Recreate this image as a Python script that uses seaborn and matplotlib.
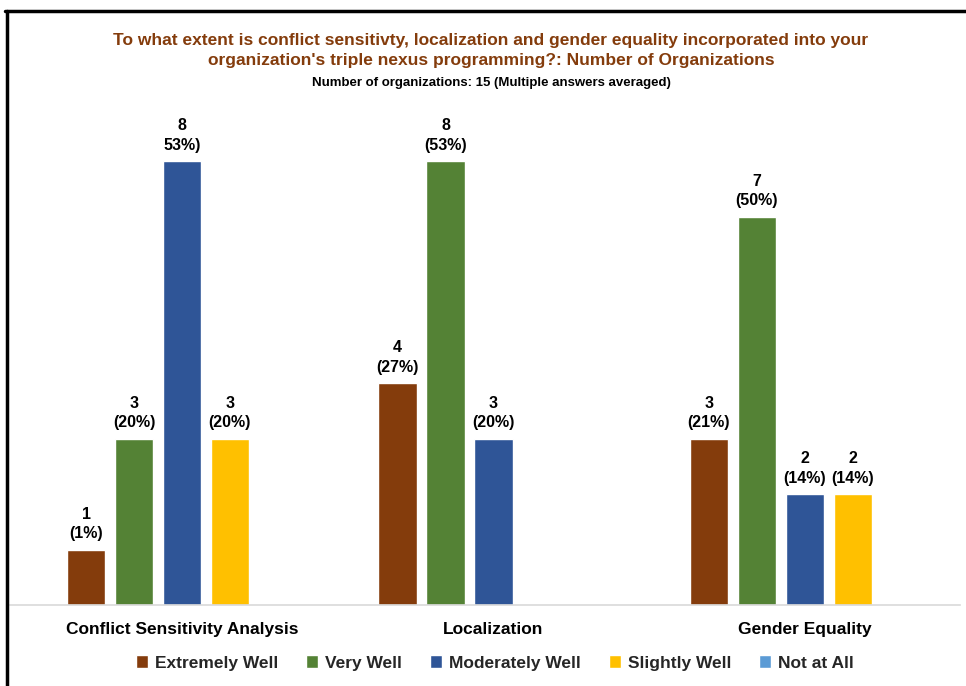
import matplotlib
matplotlib.use("Agg")
import matplotlib.pyplot as plt
from matplotlib.lines import Line2D
import pandas as pd
import seaborn as sns

categories = ["Conflict Sensitivity Analysis", "Localization", "Gender Equality"]
levels = ["Extremely Well", "Very Well", "Moderately Well", "Slightly Well", "Not at All"]

extremely_well = [1, 4, 3]
very_well = [3, 8, 7]
moderately_well = [8, 3, 2]
slightly_well = [3, 0, 2]
not_at_all = [0, 0, 0]

extremely_pct = ["(1%)", "(27%)", "(21%)"]
very_pct = ["(20%)", "(53%)", "(50%)"]
moderately_pct = ["53%)", "(20%)", "(14%)"]
slightly_pct = ["(20%)", "", "(14%)"]
not_at_all_pct = ["", "", ""]

colors = ["#843C0C", "#548235", "#2F5597", "#FFC000", "#5B9BD5"]

series = [extremely_well, very_well, moderately_well, slightly_well, not_at_all]
pcts = [extremely_pct, very_pct, moderately_pct, slightly_pct, not_at_all_pct]

rows = []
for lvl, vals in zip(levels, series):
    for cat, v in zip(categories, vals):
        rows.append({"category": cat, "level": lvl, "count": v})
df = pd.DataFrame(rows)

sns.set_theme(style="white")
FONT = ["Liberation Sans Narrow", "Liberation Sans", "DejaVu Sans"]
plt.rcParams["font.family"] = FONT

fig = plt.figure(figsize=(9.66, 6.86), dpi=100)
ax = fig.add_axes([10 / 966, 81 / 686, 950 / 966, (605 - 105.5) / 686])

sns.barplot(data=df, x="category", y="count", hue="level",
            order=categories, hue_order=levels, palette=colors,
            width=0.77, gap=0.2, saturation=1, errorbar=None, ax=ax)

ax.set_xlim(-0.552, 2.498)
ax.set_ylim(0, 9)
ax.set_xlabel("")
ax.set_ylabel("")
ax.set_yticks([])
for side in ["top", "left", "right"]:
    ax.spines[side].set_visible(False)
ax.spines["bottom"].set_color("#D9D9D9")
ax.spines["bottom"].set_linewidth(1.2)
ax.tick_params(axis="x", length=0, pad=12)
for lbl in ax.get_xticklabels():
    lbl.set_fontweight("bold")
    lbl.set_fontsize(12.5)
    lbl.set_color("black")

# value / share labels above each bar
for container, vals, pl in zip(ax.containers, series, pcts):
    for bar, v, p in zip(container, vals, pl):
        if v == 0:
            continue
        ax.annotate(f"{v}\n{p}", (bar.get_x() + bar.get_width() / 2, bar.get_height()),
                    xytext=(0, 6), textcoords="offset points",
                    ha="center", va="bottom", fontsize=11.5, fontweight="bold",
                    color="black", linespacing=1.35)

handles, labels = ax.get_legend_handles_labels()
ax.get_legend().remove()
fig.legend(handles, labels, loc="center", bbox_to_anchor=(495 / 966, 1 - 663 / 686),
           ncol=5, frameon=False, handlelength=0.7, handleheight=0.7,
           handletextpad=0.4, columnspacing=1.6,
           prop={"weight": "bold", "size": 12.5})

fig.text(491 / 966, 1 - 40 / 686,
         "To what extent is conflict sensitivty, localization and gender equality incorporated into your",
         ha="center", va="center", fontsize=12.5, fontweight="bold", color="#843C0C")
fig.text(491 / 966, 1 - 61 / 686,
         "organization's triple nexus programming?: Number of Organizations",
         ha="center", va="center", fontsize=12.5, fontweight="bold", color="#843C0C")
fig.text(491 / 966, 1 - 83 / 686,
         "Number of organizations: 15 (Multiple answers averaged)",
         ha="center", va="center", fontsize=9.5, fontweight="bold", color="black")

# outer frame on the top and left edges
fig.add_artist(Line2D([6.5 / 966, 6.5 / 966], [0, 1 - 11 / 686],
                      transform=fig.transFigure, color="black", linewidth=2.5))
fig.add_artist(Line2D([5 / 966, 1], [1 - 11 / 686, 1 - 11 / 686],
                      transform=fig.transFigure, color="black", linewidth=2.5))

fig.savefig("out.png", dpi=100, facecolor="white")
